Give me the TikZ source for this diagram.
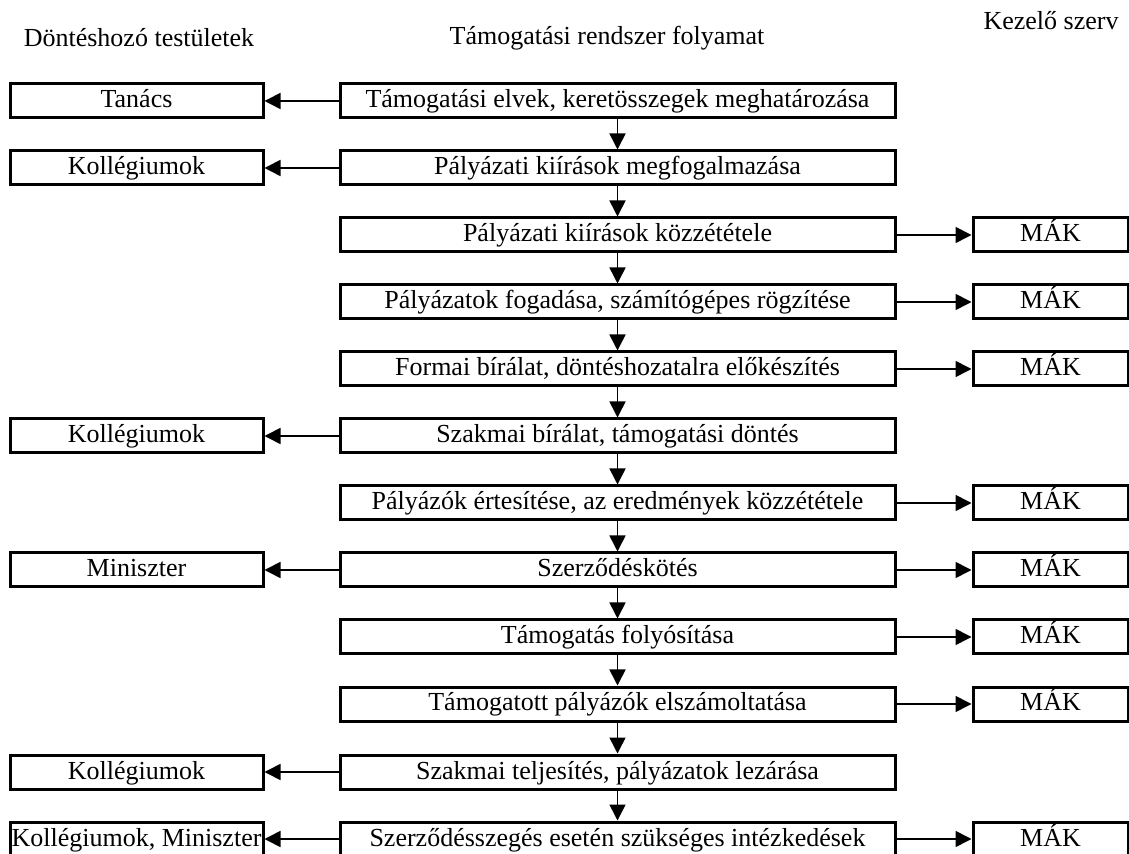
\documentclass[tikz,border=0pt]{standalone}
\usepackage{fontspec}
\setmainfont{Liberation Serif}
\usetikzlibrary{arrows.meta}

\begin{document}
\begin{tikzpicture}[x=0.5pt, y=-0.5pt,
  box/.style={draw, line width=1.5pt, rectangle, minimum height=17pt, inner sep=0pt,
    text height=9.5pt, text depth=2.5pt, font=\fontsize{13}{15}\selectfont},
  leftbox/.style={box, minimum width=126.5pt},
  stepbox/.style={box, minimum width=277.5pt},
  makbox/.style={box, minimum width=77.5pt},
  arr/.style={line width=0.8pt, -{Triangle[length=8pt, width=8pt]}},
  head/.style={font=\fontsize{13}{15}\selectfont}]

\def\xl{136.5}
\def\xc{617.5}
\def\xr{1050.5}

\useasboundingbox (0,0) rectangle (1129,854);

% headers
\node[head] (hleft) at (139,38) {Döntéshozó testületek};
\node[head] (hmid) at (607,38) {Támogatási rendszer folyamat};
\node[head] (hright) at (1051,21) {Kezelő szerv};

% process steps
\node[stepbox] (s1) at (\xc,101) {Támogatási elvek, keretösszegek meghatározása};
\node[stepbox] (s2) at (\xc,168) {Pályázati kiírások megfogalmazása};
\node[stepbox] (s3) at (\xc,235) {Pályázati kiírások közzététele};
\node[stepbox] (s4) at (\xc,302) {Pályázatok fogadása, számítógépes rögzítése};
\node[stepbox] (s5) at (\xc,369) {Formai bírálat, döntéshozatalra előkészítés};
\node[stepbox] (s6) at (\xc,436) {Szakmai bírálat, támogatási döntés};
\node[stepbox] (s7) at (\xc,503) {Pályázók értesítése, az eredmények közzététele};
\node[stepbox] (s8) at (\xc,570) {Szerződéskötés};
\node[stepbox] (s9) at (\xc,637) {Támogatás folyósítása};
\node[stepbox] (s10) at (\xc,704) {Támogatott pályázók elszámoltatása};
\node[stepbox] (s11) at (\xc,772) {Szakmai teljesítés, pályázatok lezárása};
\node[stepbox] (s12) at (\xc,839) {Szerződésszegés esetén szükséges intézkedések};

% decision bodies
\node[leftbox] (d1) at (\xl,101) {Tanács};
\node[leftbox] (d2) at (\xl,168) {Kollégiumok};
\node[leftbox] (d6) at (\xl,436) {Kollégiumok};
\node[leftbox] (d8) at (\xl,570) {Miniszter};
\node[leftbox] (d11) at (\xl,772) {Kollégiumok};
\node[leftbox] (d12) at (\xl,839) {Kollégiumok, Miniszter};

% managing body
\node[makbox] (m3) at (\xr,235) {MÁK};
\node[makbox] (m4) at (\xr,302) {MÁK};
\node[makbox] (m5) at (\xr,369) {MÁK};
\node[makbox] (m7) at (\xr,503) {MÁK};
\node[makbox] (m8) at (\xr,570) {MÁK};
\node[makbox] (m9) at (\xr,637) {MÁK};
\node[makbox] (m10) at (\xr,704) {MÁK};
\node[makbox] (m12) at (\xr,839) {MÁK};

% flow down
\draw[arr] (s1) -- (s2);
\draw[arr] (s2) -- (s3);
\draw[arr] (s3) -- (s4);
\draw[arr] (s4) -- (s5);
\draw[arr] (s5) -- (s6);
\draw[arr] (s6) -- (s7);
\draw[arr] (s7) -- (s8);
\draw[arr] (s8) -- (s9);
\draw[arr] (s9) -- (s10);
\draw[arr] (s10) -- (s11);
\draw[arr] (s11) -- (s12);

% to the left
\draw[arr] (s1) -- (d1);
\draw[arr] (s2) -- (d2);
\draw[arr] (s6) -- (d6);
\draw[arr] (s8) -- (d8);
\draw[arr] (s11) -- (d11);
\draw[arr] (s12) -- (d12);

% to the right
\draw[arr] (s3) -- (m3);
\draw[arr] (s4) -- (m4);
\draw[arr] (s5) -- (m5);
\draw[arr] (s7) -- (m7);
\draw[arr] (s8) -- (m8);
\draw[arr] (s9) -- (m9);
\draw[arr] (s10) -- (m10);
\draw[arr] (s12) -- (m12);

\end{tikzpicture}
\end{document}
